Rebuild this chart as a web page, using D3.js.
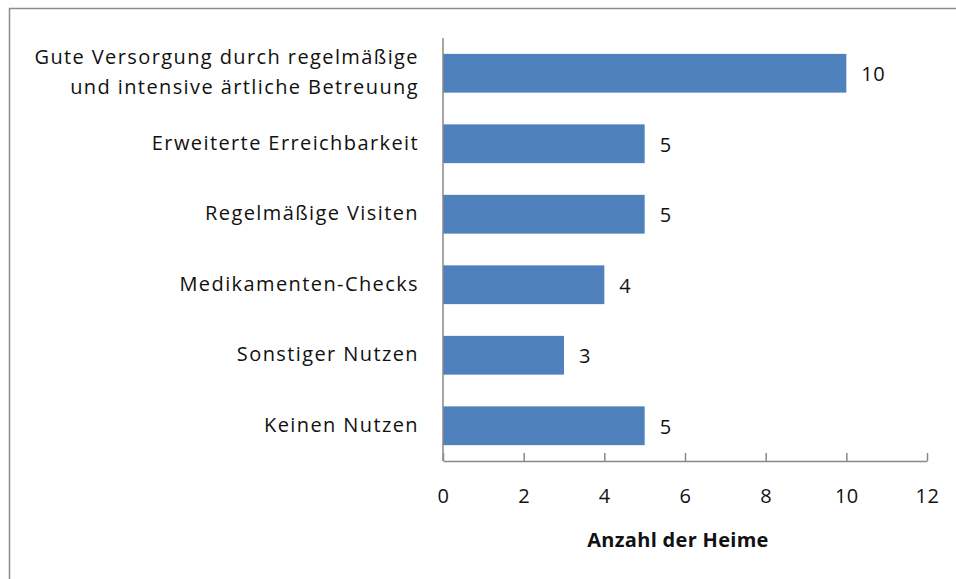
<!DOCTYPE html>
<html>
<head>
<meta charset="utf-8">
<script src="https://cdn.jsdelivr.net/npm/d3@7"></script>
<style>
  body { margin: 0; background: #fff; }
  text { font-family: "Open Sans", sans-serif; fill: #111; }
</style>
</head>
<body>
<div id="chart"></div>
<script>
var categories = [
  ["Gute Versorgung durch regelmäßige", "und intensive ärtliche Betreuung"],
  ["Erweiterte Erreichbarkeit"],
  ["Regelmäßige Visiten"],
  ["Medikamenten-Checks"],
  ["Sonstiger Nutzen"],
  ["Keinen Nutzen"]
];
var values = [10, 5, 5, 4, 3, 5];
var xTicks = [0, 2, 4, 6, 8, 10, 12];
var xTitle = "Anzahl der Heime";

var width = 956, height = 579;
var plotLeft = 443, plotRight = 927, plotTop = 38, plotBottom = 461;
var fs = "20px", ls = "1.4px";

var svg = d3.select("#chart").append("svg")
  .attr("width", width)
  .attr("height", height);

// outer frame
svg.append("rect")
  .attr("x", 9.5).attr("y", 8.5)
  .attr("width", 960).attr("height", 600)
  .attr("fill", "none")
  .attr("stroke", "#8c8c8c")
  .attr("stroke-width", 1.5);

var x = d3.scaleLinear().domain([0, 12]).range([plotLeft, plotRight]);
var y = d3.scaleBand().domain(d3.range(categories.length)).range([plotTop, plotBottom]).paddingInner(0.45).paddingOuter(0.225);

// bars
svg.selectAll(".bar")
  .data(values)
  .enter().append("rect")
  .attr("class", "bar")
  .attr("x", x(0))
  .attr("y", function(d, i) { return y(i); })
  .attr("width", function(d) { return x(d) - x(0); })
  .attr("height", y.bandwidth())
  .attr("fill", "#4f81bd");

// value labels
svg.selectAll(".val")
  .data(values)
  .enter().append("text")
  .attr("class", "val")
  .attr("x", function(d) { return x(d) + 15; })
  .attr("y", function(d, i) { return y(i) + y.bandwidth() / 2 + 1; })
  .attr("dy", "0.35em")
  .style("font-size", fs).style("letter-spacing", "0.5px")
  .text(function(d) { return d; });

// category labels
var lab = svg.selectAll(".cat")
  .data(categories)
  .enter().append("text")
  .attr("class", "cat")
  .attr("text-anchor", "end")
  .style("font-size", fs).style("letter-spacing", ls)
  .attr("transform", function(d, i) { return "translate(419," + (y(i) + y.bandwidth() / 2) + ")"; });
lab.selectAll("tspan")
  .data(function(d) { return d; })
  .enter().append("tspan")
  .attr("x", 0)
  .attr("y", function(d, j, arr) { return (j - (arr.length - 1) / 2) * 30 - 1; })
  .attr("dy", "0.35em")
  .text(function(d) { return d; });

// x axis
var xAxis = svg.append("g")
  .attr("transform", "translate(0," + plotBottom + ")")
  .call(d3.axisBottom(x).tickValues(xTicks).tickSizeInner(-8).tickSizeOuter(0).tickPadding(28));
xAxis.select(".domain").attr("stroke", "#888").attr("stroke-width", 1.5);
xAxis.selectAll(".tick line").attr("stroke", "#888").attr("stroke-width", 1.5);
xAxis.selectAll(".tick text")
  .attr("font-size", null).attr("font-family", null)
  .style("font-size", fs).style("letter-spacing", "0.5px").attr("fill", "#111");

// y axis line
svg.append("line")
  .attr("x1", plotLeft).attr("x2", plotLeft)
  .attr("y1", plotTop).attr("y2", plotBottom)
  .attr("stroke", "#888").attr("stroke-width", 1.5);

// axis title
svg.append("text")
  .attr("x", 678)
  .attr("y", 547)
  .attr("text-anchor", "middle")
  .style("font-size", fs)
  .style("font-weight", "bold")
  .style("letter-spacing", "0.3px")
  .text(xTitle);
</script>
</body>
</html>
